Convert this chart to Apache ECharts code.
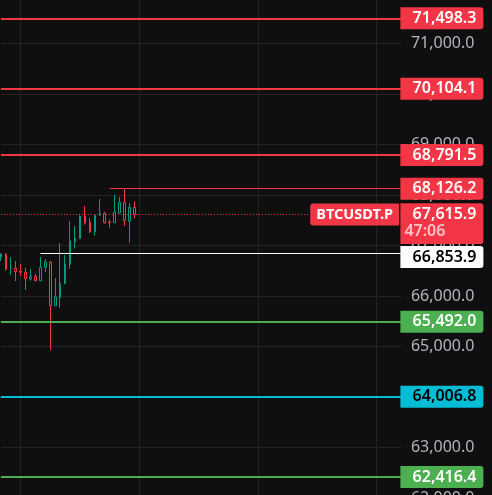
<!DOCTYPE html>
<html>
<head>
<meta charset="utf-8">
<script src="https://cdn.jsdelivr.net/npm/echarts@6/dist/echarts.min.js"></script>
<style>
  html, body { margin: 0; padding: 0; background: #0f0f0f; }
  #chart { width: 492px; height: 495px; }
</style>
</head>
<body>
<div id="chart"></div>
<script>
// candles, oldest first
const opens  = [66767, 66826, 66541, 66549, 66495, 66470, 66337, 66391, 66303, 66569,
                66674, 65808, 65967, 66244, 66628, 67076, 67135, 67584, 67466, 67274,
                67598, 67638, 67466, 67452, 67644, 67856, 67480, 67757];
const closes = [66832, 66535, 66555, 66482, 66470, 66343, 66391, 66303, 66569, 66674,
                65808, 65981, 66252, 66634, 67089, 67143, 67584, 67452, 67268, 67600,
                67638, 67452, 67452, 67658, 67856, 67491, 67757, 67615.9];
const lows   = [66693, 66501, 66416, 66297, 66396, 66119, 66303, 66292, 66300, 66476,
                64931, 65805, 65769, 66240, 66541, 66937, 67130, 67412, 67248, 67194,
                67595, 67432, 67353, 67450, 67638, 67386, 67056, 67531];
const highs  = [66842, 66852, 66773, 66693, 66634, 66555, 66535, 66442, 66773, 66733,
                66693, 66357, 67050, 66812, 67485, 67386, 67594, 67782, 67545, 67604,
                67921, 67664, 67511, 68000, 67961, 68126.2, 67836, 67876];

// horizontal levels
const resistanceLevels = [71498.3, 70104.1, 68791.5];
const supportLevels = [65492.0, 62416.4];
const pivotLevel = 64006.8;
const recentHigh = 68126.2;
const recentHighFrom = 22;
const baseLevel = 66853.9;
const baseLevelFrom = 8;
const lastPrice = 67615.9;
const countdown = '47:06';
const ticker = 'BTCUSDT.P';

// price axis
const priceMin = 62000;
const priceMax = 72000;
const priceStep = 1000;

const slotCount = 82; // empty slots to the right of the last candle
const slots = Array.from({ length: slotCount }, (_, i) => String(i));

const BG = '#0f0f0f';
const GRID = '#232323';
const UP = '#089981';
const DOWN = '#f23645';
const RED = '#f23645';
const GREEN = '#4caf50';
const CYAN = '#00bcd4';
const FONT = "'Noto Sans', sans-serif";

const fmt = (v) => v.toLocaleString('en-US', { minimumFractionDigits: 1, maximumFractionDigits: 1 });

function priceBox(value, bg, fg, position, dy) {
  return {
    show: true,
    position: position || 'insideEnd',
    distance: [-82, dy || 0],
    formatter: fmt(value),
    backgroundColor: bg,
    color: fg,
    fontFamily: FONT,
    fontSize: 16,
    fontWeight: 600,
    lineHeight: 16,
    padding: [3, 7, 3, 4],
    width: 72,
    borderRadius: [0, 3, 3, 0],
  };
}

function fullLine(value, color, width, label) {
  return { yAxis: value, lineStyle: { color: color, width: width, type: 'solid' }, label: label };
}

const candles = opens.map((o, i) => [o, closes[i], lows[i], highs[i]]);
const lastSlot = slotCount - 1;

const markData = [];
resistanceLevels.forEach((v) => markData.push(fullLine(v, RED, 2, priceBox(v, RED, '#fff'))));
supportLevels.forEach((v) => markData.push(fullLine(v, GREEN, 2, priceBox(v, GREEN, '#fff'))));
markData.push(fullLine(pivotLevel, CYAN, 2, priceBox(pivotLevel, CYAN, '#000')));
markData.push([
  { coord: [recentHighFrom, recentHigh], lineStyle: { color: RED, width: 1, type: 'solid' }, label: priceBox(recentHigh, RED, '#fff') },
  { coord: [lastSlot, recentHigh] },
]);
markData.push([
  { coord: [baseLevelFrom, baseLevel], lineStyle: { color: '#ffffff', width: 1, type: 'solid' },
    label: priceBox(baseLevel, '#ffffff', '#000', 'insideEndBottom', -6.9) },
  { coord: [lastSlot, baseLevel] },
]);
// last price: dotted line with ticker tag
markData.push({
  yAxis: lastPrice,
  lineStyle: { color: RED, width: 1, type: [1, 2] },
  label: {
    show: true, position: 'insideEnd', distance: [2.4, 0], formatter: ticker,
    backgroundColor: RED, color: '#fff', fontFamily: FONT, fontSize: 14.5, fontWeight: 'bold', lineHeight: 16,
    padding: [3, 6, 3, 6], borderRadius: [3, 0, 0, 3],
  },
});
// last price box with countdown
markData.push({
  yAxis: lastPrice,
  lineStyle: { color: 'rgba(0,0,0,0)', width: 1 },
  label: {
    show: true, position: 'insideEndBottom', distance: [-82, -11.1],
    formatter: '{p|' + fmt(lastPrice) + '}\n{t|' + countdown + '}',
    backgroundColor: RED, padding: [2.6, 7, 4, 4], width: 72, borderRadius: [0, 3, 3, 0],
    rich: {
      p: { color: '#fff', fontFamily: FONT, fontSize: 16, fontWeight: 600, lineHeight: 17, align: 'right' },
      t: { color: 'rgba(255,255,255,0.7)', fontFamily: FONT, fontSize: 16, fontWeight: 600, lineHeight: 17, align: 'left' },
    },
  },
});

const chart = echarts.init(document.getElementById('chart'));
chart.setOption({
  animation: false,
  backgroundColor: BG,
  grid: { left: 0.9, right: 90.6, top: -7, bottom: -3, outerBoundsMode: 'none' },
  xAxis: {
    type: 'category',
    data: slots,
    boundaryGap: false,
    axisLine: { show: false },
    axisTick: { show: false },
    axisLabel: { show: false },
    splitLine: { show: true, interval: (i) => i % 24 === 4, lineStyle: { color: GRID, width: 1 } },
  },
  yAxis: {
    type: 'value',
    position: 'right',
    min: priceMin,
    max: priceMax,
    interval: priceStep,
    axisLine: { show: false },
    axisTick: { show: false },
    splitLine: { show: true, lineStyle: { color: GRID, width: 1 } },
    axisLabel: {
      color: '#b2b5be',
      fontFamily: FONT,
      fontSize: 16,
      align: 'right',
      margin: 73,
      formatter: fmt,
    },
  },
  series: [
    {
      type: 'candlestick',
      data: candles,
      barWidth: 2,
      clip: false,
      itemStyle: {
        color: BG,
        color0: BG,
        borderColor: UP,
        borderColor0: DOWN,
        borderWidth: 1,
      },
      markLine: {
        silent: true,
        symbol: ['none', 'none'],
        animation: false,
        data: markData,
      },
    },
  ],
});
</script>
</body>
</html>
